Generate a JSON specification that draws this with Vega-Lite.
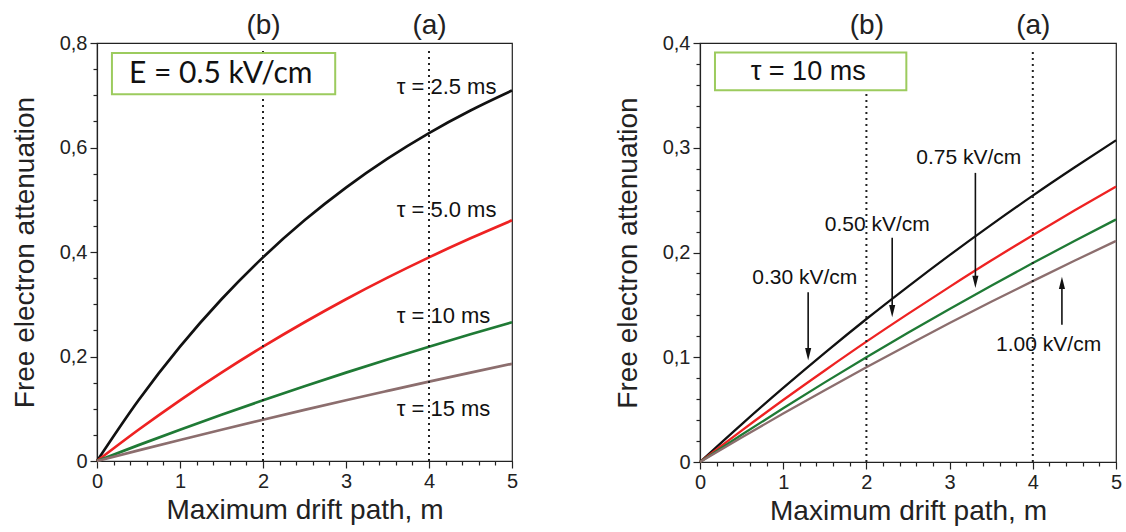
{
  "$schema": "https://vega.github.io/schema/vega-lite/v6.json",
  "padding": {"left": 10, "top": 10, "right": 3, "bottom": 2},
  "spacing": 94,
  "config": {
    "view": {"stroke": "#222", "strokeWidth": 1.2},
    "font": "Liberation Sans",
    "axis": {
      "labelFont": "Liberation Sans", "titleFont": "Liberation Sans",
      "labelFontSize": 20, "titleFontSize": 28, "titleFontWeight": "normal",
      "labelColor": "#222", "titleColor": "#222", "domainColor": "#222", "tickColor": "#222",
      "domainWidth": 1.2, "tickWidth": 1.2, "grid": false
    }
  },
  "datasets": {
    "left": [
      {"series": "t2.5", "x": 0, "y": 0}, {"series": "t2.5", "x": 0.5, "y": 0.1162}, {"series": "t2.5", "x": 1, "y": 0.2188}, {"series": "t2.5", "x": 1.5, "y": 0.3095}, {"series": "t2.5", "x": 2, "y": 0.3897}, {"series": "t2.5", "x": 2.5, "y": 0.4606}, {"series": "t2.5", "x": 3, "y": 0.5232}, {"series": "t2.5", "x": 3.5, "y": 0.5786}, {"series": "t2.5", "x": 4, "y": 0.6276}, {"series": "t2.5", "x": 4.5, "y": 0.6708}, {"series": "t2.5", "x": 5, "y": 0.7090},
      {"series": "t5", "x": 0, "y": 0}, {"series": "t5", "x": 0.5, "y": 0.0598}, {"series": "t5", "x": 1, "y": 0.1162}, {"series": "t5", "x": 1.5, "y": 0.1691}, {"series": "t5", "x": 2, "y": 0.2188}, {"series": "t5", "x": 2.5, "y": 0.2655}, {"series": "t5", "x": 3, "y": 0.3096}, {"series": "t5", "x": 3.5, "y": 0.3509}, {"series": "t5", "x": 4, "y": 0.3897}, {"series": "t5", "x": 4.5, "y": 0.4262}, {"series": "t5", "x": 5, "y": 0.4606},
      {"series": "t10", "x": 0, "y": 0}, {"series": "t10", "x": 0.5, "y": 0.0304}, {"series": "t10", "x": 1, "y": 0.0598}, {"series": "t10", "x": 1.5, "y": 0.0884}, {"series": "t10", "x": 2, "y": 0.1162}, {"series": "t10", "x": 2.5, "y": 0.1430}, {"series": "t10", "x": 3, "y": 0.1691}, {"series": "t10", "x": 3.5, "y": 0.1943}, {"series": "t10", "x": 4, "y": 0.2188}, {"series": "t10", "x": 4.5, "y": 0.2425}, {"series": "t10", "x": 5, "y": 0.2655},
      {"series": "t15", "x": 0, "y": 0}, {"series": "t15", "x": 0.5, "y": 0.0204}, {"series": "t15", "x": 1, "y": 0.0403}, {"series": "t15", "x": 1.5, "y": 0.0598}, {"series": "t15", "x": 2, "y": 0.0790}, {"series": "t15", "x": 2.5, "y": 0.0978}, {"series": "t15", "x": 3, "y": 0.1162}, {"series": "t15", "x": 3.5, "y": 0.1341}, {"series": "t15", "x": 4, "y": 0.1518}, {"series": "t15", "x": 4.5, "y": 0.1691}, {"series": "t15", "x": 5, "y": 0.1860}
    ],
    "right": [
      {"series": "e030", "x": 0, "y": 0}, {"series": "e030", "x": 0.5, "y": 0.0360}, {"series": "e030", "x": 1, "y": 0.0707}, {"series": "e030", "x": 1.5, "y": 0.1042}, {"series": "e030", "x": 2, "y": 0.1365}, {"series": "e030", "x": 2.5, "y": 0.1675}, {"series": "e030", "x": 3, "y": 0.1975}, {"series": "e030", "x": 3.5, "y": 0.2264}, {"series": "e030", "x": 4, "y": 0.2543}, {"series": "e030", "x": 4.5, "y": 0.2811}, {"series": "e030", "x": 5, "y": 0.3071},
      {"series": "e050", "x": 0, "y": 0}, {"series": "e050", "x": 0.5, "y": 0.0300}, {"series": "e050", "x": 1, "y": 0.0592}, {"series": "e050", "x": 1.5, "y": 0.0874}, {"series": "e050", "x": 2, "y": 0.1149}, {"series": "e050", "x": 2.5, "y": 0.1414}, {"series": "e050", "x": 3, "y": 0.1672}, {"series": "e050", "x": 3.5, "y": 0.1923}, {"series": "e050", "x": 4, "y": 0.2165}, {"series": "e050", "x": 4.5, "y": 0.2400}, {"series": "e050", "x": 5, "y": 0.2629},
      {"series": "e075", "x": 0, "y": 0}, {"series": "e075", "x": 0.5, "y": 0.0260}, {"series": "e075", "x": 1, "y": 0.0513}, {"series": "e075", "x": 1.5, "y": 0.0760}, {"series": "e075", "x": 2, "y": 0.1000}, {"series": "e075", "x": 2.5, "y": 0.1234}, {"series": "e075", "x": 3, "y": 0.1461}, {"series": "e075", "x": 3.5, "y": 0.1683}, {"series": "e075", "x": 4, "y": 0.1899}, {"series": "e075", "x": 4.5, "y": 0.2110}, {"series": "e075", "x": 5, "y": 0.2315},
      {"series": "e100", "x": 0, "y": 0}, {"series": "e100", "x": 0.5, "y": 0.0234}, {"series": "e100", "x": 1, "y": 0.0463}, {"series": "e100", "x": 1.5, "y": 0.0686}, {"series": "e100", "x": 2, "y": 0.0904}, {"series": "e100", "x": 2.5, "y": 0.1118}, {"series": "e100", "x": 3, "y": 0.1326}, {"series": "e100", "x": 3.5, "y": 0.1529}, {"series": "e100", "x": 4, "y": 0.1727}, {"series": "e100", "x": 4.5, "y": 0.1921}, {"series": "e100", "x": 5, "y": 0.2110}
    ],
    "markers": [{"x": 2, "y": 0}, {"x": 4, "y": 0}],
    "leftLabels": [
      {"x": 3.61, "y": 0.716, "label": "τ = 2.5 ms"},
      {"x": 3.61, "y": 0.481, "label": "τ = 5.0 ms"},
      {"x": 3.61, "y": 0.277, "label": "τ = 10 ms"},
      {"x": 3.61, "y": 0.0995, "label": "τ = 15 ms"}
    ],
    "leftBox": [{"x": 0.18, "x2": 2.87, "y": 0.781, "y2": 0.702, "cx": 1.49, "cy": 0.741, "label": "E = 0.5 kV/cm"}],
    "rightBox": [{"x": 0.18, "x2": 2.48, "y": 0.391, "y2": 0.355, "cx": 1.30, "cy": 0.3726, "label": "τ = 10 ms"}],
    "rightLabels": [
      {"x": 3.23, "y": 0.290, "label": "0.75 kV/cm"},
      {"x": 2.13, "y": 0.226, "label": "0.50 kV/cm"},
      {"x": 1.26, "y": 0.176, "label": "0.30 kV/cm"},
      {"x": 4.19, "y": 0.112, "label": "1.00 kV/cm"}
    ],
    "arrows": [
      {"x": 1.30, "y1": 0.162, "yh": 0.103, "dir": "down"},
      {"x": 2.31, "y1": 0.214, "yh": 0.144, "dir": "down"},
      {"x": 3.31, "y1": 0.276, "yh": 0.172, "dir": "down"},
      {"x": 4.35, "y1": 0.131, "yh": 0.171, "dir": "up"}
    ]
  },
  "hconcat": [
    {
      "width": 415,
      "height": 418,
      "resolve": {"axis": {"x": "independent", "y": "independent"}},
      "layer": [
        {
          "data": {"name": "left"},
          "mark": {"type": "line", "strokeWidth": 2.7, "interpolate": "monotone"},
          "encoding": {
            "x": {"field": "x", "type": "quantitative", "scale": {"domain": [0, 5], "nice": false},
              "axis": {"title": "Maximum drift path, m", "values": [0, 1, 2, 3, 4, 5], "format": "d",
                "tickSize": 7, "labelPadding": 3, "titlePadding": 5, "labelFlush": false}},
            "y": {"field": "y", "type": "quantitative", "scale": {"domain": [0, 0.8], "nice": false},
              "axis": {"title": "Free electron attenuation", "values": [0, 0.2, 0.4, 0.6, 0.8],
                "labelExpr": "datum.value == 0 ? '0' : replace(format(datum.value, '.1f'), '.', ',')",
                "tickSize": 7, "labelPadding": 3, "titlePadding": 20, "labelFlush": false}},
            "color": {"field": "series", "type": "nominal", "legend": null,
              "scale": {"domain": ["t2.5", "t5", "t10", "t15"], "range": ["#111111", "#ee2222", "#1f7a35", "#8c6e6e"]}}
          }
        },
        {
          "data": {"name": "markers"},
          "mark": {"type": "rule", "strokeDash": [2, 4], "strokeWidth": 2, "color": "#222"},
          "encoding": {
            "x": {"field": "x", "type": "quantitative",
              "axis": {"orient": "top", "values": [2, 4], "labelExpr": "datum.value == 2 ? '(b)' : '(a)'", "domain": false, "ticks": false, "labelFontSize": 28, "labelPadding": 4, "title": null}},
            "y": {"field": "y", "type": "quantitative", "axis": null},
            "y2": {"datum": 0.79}
          }
        },
        {
          "data": {"name": "leftBox"},
          "mark": {"type": "rect", "fill": "white", "stroke": "#9ccb5e", "strokeWidth": 2},
          "encoding": {
            "x": {"field": "x", "type": "quantitative",
              "axis": {"orient": "bottom", "values": [0.2,0.4,0.6,0.8,1.2,1.4,1.6,1.8,2.2,2.4,2.6,2.8,3.2,3.4,3.6,3.8,4.2,4.4,4.6,4.8], "labels": false, "domain": false, "tickSize": 4, "title": null}},
            "x2": {"field": "x2"},
            "y": {"field": "y", "type": "quantitative",
              "axis": {"orient": "left", "values": [0.05,0.1,0.15,0.25,0.3,0.35,0.45,0.5,0.55,0.65,0.7,0.75], "labels": false, "domain": false, "tickSize": 4, "title": null}},
            "y2": {"field": "y2"}
          }
        },
        {
          "data": {"name": "leftBox"},
          "mark": {"type": "text", "font": "Lato", "fontSize": 30, "color": "#111", "align": "center", "baseline": "middle"},
          "encoding": {
            "x": {"field": "cx", "type": "quantitative", "axis": null},
            "y": {"field": "cy", "type": "quantitative", "axis": null},
            "text": {"field": "label"}
          }
        },
        {
          "data": {"name": "leftLabels"},
          "mark": {"type": "text", "font": "Liberation Sans", "fontSize": 22, "color": "#111", "align": "left", "baseline": "middle"},
          "encoding": {
            "x": {"field": "x", "type": "quantitative", "axis": null},
            "y": {"field": "y", "type": "quantitative", "axis": null},
            "text": {"field": "label"}
          }
        }
      ]
    },
    {
      "width": 416,
      "height": 419,
      "resolve": {"axis": {"x": "independent", "y": "independent"}},
      "layer": [
        {
          "data": {"name": "right"},
          "mark": {"type": "line", "strokeWidth": 2.3, "interpolate": "monotone"},
          "encoding": {
            "x": {"field": "x", "type": "quantitative", "scale": {"domain": [0, 5], "nice": false},
              "axis": {"title": "Maximum drift path, m", "values": [0, 1, 2, 3, 4, 5], "format": "d",
                "tickSize": 7, "labelPadding": 3, "titlePadding": 5, "labelFlush": false}},
            "y": {"field": "y", "type": "quantitative", "scale": {"domain": [0, 0.4], "nice": false},
              "axis": {"title": "Free electron attenuation", "values": [0, 0.1, 0.2, 0.3, 0.4],
                "labelExpr": "datum.value == 0 ? '0' : replace(format(datum.value, '.1f'), '.', ',')",
                "tickSize": 7, "labelPadding": 3, "titlePadding": 20, "labelFlush": false}},
            "color": {"field": "series", "type": "nominal", "legend": null,
              "scale": {"domain": ["e030", "e050", "e075", "e100"], "range": ["#111111", "#ee2222", "#1f7a35", "#8c6e6e"]}}
          }
        },
        {
          "data": {"name": "markers"},
          "mark": {"type": "rule", "strokeDash": [2, 4], "strokeWidth": 2, "color": "#222"},
          "encoding": {
            "x": {"field": "x", "type": "quantitative",
              "axis": {"orient": "top", "values": [2, 4], "labelExpr": "datum.value == 2 ? '(b)' : '(a)'", "domain": false, "ticks": false, "labelFontSize": 28, "labelPadding": 4, "title": null}},
            "y": {"field": "y", "type": "quantitative", "axis": null},
            "y2": {"datum": 0.395}
          }
        },
        {
          "data": {"name": "rightBox"},
          "mark": {"type": "rect", "fill": "white", "stroke": "#9ccb5e", "strokeWidth": 2},
          "encoding": {
            "x": {"field": "x", "type": "quantitative",
              "axis": {"orient": "bottom", "values": [0.2,0.4,0.6,0.8,1.2,1.4,1.6,1.8,2.2,2.4,2.6,2.8,3.2,3.4,3.6,3.8,4.2,4.4,4.6,4.8], "labels": false, "domain": false, "tickSize": 4, "title": null}},
            "x2": {"field": "x2"},
            "y": {"field": "y", "type": "quantitative",
              "axis": {"orient": "left", "values": [0.02,0.04,0.06,0.08,0.12,0.14,0.16,0.18,0.22,0.24,0.26,0.28,0.32,0.34,0.36,0.38], "labels": false, "domain": false, "tickSize": 4, "title": null}},
            "y2": {"field": "y2"}
          }
        },
        {
          "data": {"name": "rightBox"},
          "mark": {"type": "text", "font": "Liberation Sans", "fontSize": 27, "color": "#111", "align": "center", "baseline": "middle"},
          "encoding": {
            "x": {"field": "cx", "type": "quantitative", "axis": null},
            "y": {"field": "cy", "type": "quantitative", "axis": null},
            "text": {"field": "label"}
          }
        },
        {
          "data": {"name": "rightLabels"},
          "mark": {"type": "text", "font": "Liberation Sans", "fontSize": 21, "color": "#111", "align": "center", "baseline": "middle"},
          "encoding": {
            "x": {"field": "x", "type": "quantitative", "axis": null},
            "y": {"field": "y", "type": "quantitative", "axis": null},
            "text": {"field": "label"}
          }
        },
        {
          "data": {"name": "arrows"},
          "mark": {"type": "rule", "strokeWidth": 1.6, "color": "#111"},
          "encoding": {
            "x": {"field": "x", "type": "quantitative", "axis": null},
            "y": {"field": "y1", "type": "quantitative", "axis": null},
            "y2": {"field": "yh"}
          }
        },
        {
          "data": {"name": "arrows"},
          "mark": {"type": "point", "filled": true, "color": "#111", "opacity": 1, "size": 150},
          "encoding": {
            "x": {"field": "x", "type": "quantitative", "axis": null},
            "y": {"field": "yh", "type": "quantitative", "axis": null},
            "shape": {"field": "dir", "type": "nominal", "legend": null,
              "scale": {"domain": ["down", "up"], "range": ["M-0.5,-1L0.5,-1L0,1Z", "M-0.5,1L0.5,1L0,-1Z"]}}
          }
        }
      ]
    }
  ]
}
